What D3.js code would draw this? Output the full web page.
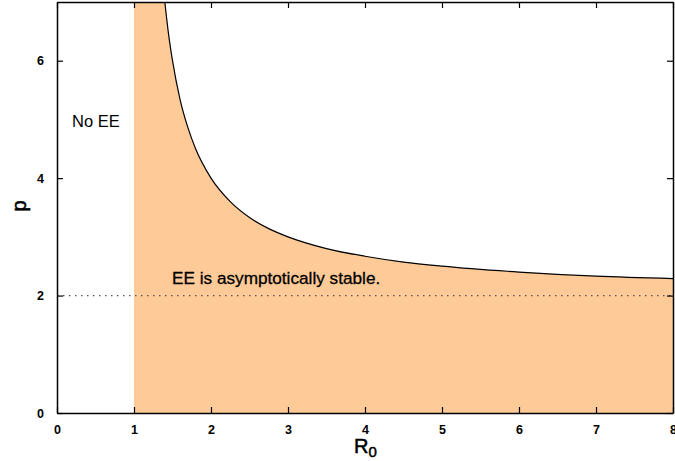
<!DOCTYPE html>
<html>
<head>
<meta charset="utf-8">
<script src="https://cdn.jsdelivr.net/npm/d3@7"></script>
<style>
  body { margin: 0; background: #fff; }
  text { font-family: "Liberation Sans", Arial, sans-serif; }
</style>
</head>
<body>
<svg id="chart" width="675" height="461"></svg>
<script>
// curve: R0 and p on the stability boundary
let r0s = [1.4, 1.45, 1.5, 1.6, 1.7, 1.8, 2, 2.25, 2.5, 2.75, 3, 3.5, 4, 4.5, 5, 6, 7, 8];
let ps = [7, 6.44, 6, 5.33, 4.86, 4.5, 4, 3.6, 3.33, 3.14, 3, 2.8, 2.67, 2.57, 2.5, 2.4, 2.33, 2.29];
let xticks = [0, 1, 2, 3, 4, 5, 6, 7, 8];
let yticks = [0, 2, 4, 6];
let pline = 2;
let r0start = 1;

let svg = d3.select("#chart");
let margin = {left: 57, right: 2, top: 2, bottom: 48};
let W = 675, H = 461;

let scx = d3.scaleLinear([0, 8], [margin.left, W - margin.right]);
let scy = d3.scaleLinear([0, 7], [H - margin.bottom, margin.top]);

let curve = r0s.map((d, i) => ({x: d, y: ps[i]}));
let areaData = [{x: r0start, y: 7}].concat(curve);

svg.append("path")
    .datum(areaData)
    .attr("fill", "#fecb98")
    .attr("d", d3.area().curve(d3.curveMonotoneX).x(d => scx(d.x)).y0(scy(0)).y1(d => scy(d.y)));

svg.append("line")
    .attr("x1", scx(0)).attr("x2", scx(8))
    .attr("y1", scy(pline)).attr("y2", scy(pline))
    .attr("stroke", "#555")
    .attr("stroke-width", 1.2)
    .attr("stroke-dasharray", "1.5,4.5");

svg.append("path")
    .datum(curve)
    .attr("fill", "none")
    .attr("stroke", "#000")
    .attr("stroke-width", 1.2)
    .attr("d", d3.line().curve(d3.curveMonotoneX).x(d => scx(d.x)).y(d => scy(d.y)));

// frame with inward ticks on every side
let g = svg.append("g").attr("transform", `translate(0,${scy(0)})`);
g.call(d3.axisBottom(scx).tickValues(xticks).tickSizeInner(-6).tickSizeOuter(0).tickPadding(12).tickFormat(d3.format("d")));
let gt = svg.append("g").attr("transform", `translate(0,${scy(7)})`);
gt.call(d3.axisTop(scx).tickValues(xticks).tickSizeInner(-6).tickSizeOuter(0).tickFormat(""));
let gl = svg.append("g").attr("transform", `translate(${scx(0)},0)`);
gl.call(d3.axisLeft(scy).tickValues(yticks).tickSizeInner(-6).tickSizeOuter(0).tickPadding(13).tickFormat(d3.format("d")));
let gr = svg.append("g").attr("transform", `translate(${scx(8)},0)`);
gr.call(d3.axisRight(scy).tickValues(yticks).tickSizeInner(-6).tickSizeOuter(0).tickFormat(""));

svg.selectAll(".domain").attr("stroke", "#000").attr("stroke-width", 1.5);
svg.selectAll(".tick line").attr("stroke", "#000").attr("stroke-width", 1.2);
svg.selectAll(".tick text")
    .attr("font-family", "Liberation Sans, Arial, sans-serif")
    .attr("font-size", 12.5)
    .attr("font-weight", "bold")
    .attr("fill", "#000");

svg.append("text")
    .attr("x", 72).attr("y", 127)
    .attr("font-size", 16.5)
    .text("No EE");

svg.append("text")
    .attr("x", 172).attr("y", 284)
    .attr("font-size", 17.2)
    .attr("stroke", "#000").attr("stroke-width", 0.3)
    .text("EE is asymptotically stable.");

let xl = svg.append("text")
    .attr("x", 354).attr("y", 453)
    .attr("font-size", 20)
    .attr("stroke", "#000").attr("stroke-width", 0.5);
xl.append("tspan").text("R");
xl.append("tspan").attr("font-size", 15).attr("dy", 4).text("0");

svg.append("text")
    .attr("transform", "translate(26,206) rotate(-90)")
    .attr("text-anchor", "middle")
    .attr("font-size", 20)
    .attr("stroke", "#000").attr("stroke-width", 0.6)
    .text("p");
</script>
</body>
</html>
